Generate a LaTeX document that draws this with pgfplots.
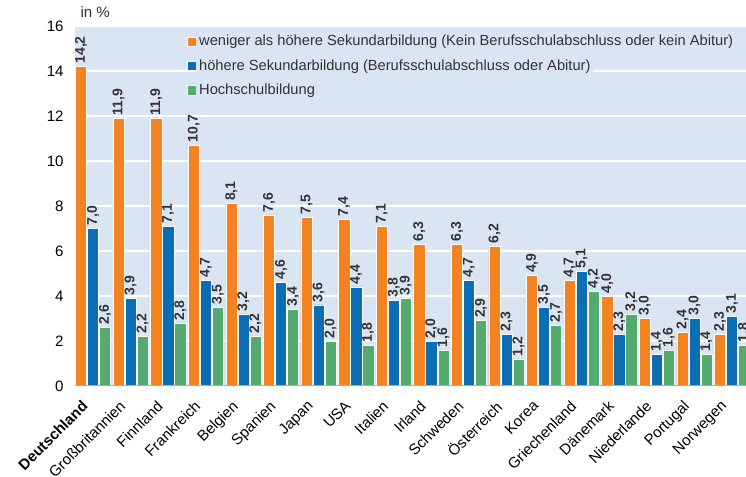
\documentclass[border=0pt]{standalone}
\usepackage{pgfplots}
\pgfplotsset{compat=1.18}
\usepackage{fontspec}
\setmainfont{Liberation Sans}
\definecolor{bgcol}{RGB}{218,229,244}
\definecolor{c1}{RGB}{245,130,32}
\definecolor{c2}{RGB}{11,109,179}
\definecolor{c3}{RGB}{84,170,111}
\definecolor{basecol}{RGB}{140,180,224}
\definecolor{lbl}{RGB}{50,50,50}

\pgfplotstableread{
x a b c
0 14.2 7.0 2.6
1 11.9 3.9 2.2
2 11.9 7.1 2.8
3 10.7 4.7 3.5
4 8.1 3.2 2.2
5 7.6 4.6 3.4
6 7.5 3.6 2.0
7 7.4 4.4 1.8
8 7.1 3.8 3.9
9 6.3 2.0 1.6
10 6.3 4.7 2.9
11 6.2 2.3 1.2
12 4.9 3.5 2.7
13 4.7 5.1 4.2
14 4.0 2.3 3.2
15 3.0 1.4 1.6
16 2.4 3.0 1.4
17 2.3 3.1 1.8
}\data

\begin{document}
\begin{tikzpicture}
\begin{axis}[
    at={(0,0)}, anchor=south west,
    scale only axis,
    width=503.25pt, height=270pt,
    font=\fontsize{11.3}{13}\selectfont,
    /pgf/number format/assume math mode=true,
    ybar=0.6pt, bar width=8.4pt,
    xmin=-0.48, xmax=17.37,
    ymin=0, ymax=16,
    ytick={0,2,...,16},
    xtick={0,...,17},
    xticklabels={\textbf{Deutschland},Großbritannien,Finnland,Frankreich,Belgien,Spanien,Japan,USA,Italien,Irland,Schweden,Österreich,Korea,Griechenland,Dänemark,Niederlande,Portugal,Norwegen},
    xticklabel style={rotate=45, anchor=north east, inner sep=1pt, xshift=-9.4pt, yshift=3.5pt},
    yticklabel style={xshift=-5pt},
    axis line style={draw=none},
    tick style={draw=none},
    axis background/.style={fill=bgcol},
    ymajorgrids, grid style={white, line width=1.5pt},
    clip mode=individual,
    nodes near coords={\pgfmathprintnumber[fixed, fixed zerofill, precision=1, use comma]{\pgfplotspointmeta}},
    nodes near coords style={rotate=90, anchor=west, inner sep=2pt, font=\fontsize{10.5}{12}\selectfont\bfseries, text=lbl},
    legend style={draw=none, fill=none, at={(0.16,0.99)}, anchor=north west,
        nodes={fill=bgcol, inner sep=2pt, anchor=west}, row sep=4.8pt,
        font=\fontsize{11}{13}\selectfont, text=lbl},
    legend cell align=left,
    legend image code/.code={\fill[#1] (0pt,-3.5pt) rectangle (7pt,3.5pt);},
]
\addplot[fill=c1, draw=white, line width=0.4pt] table[x=x, y=a] {\data};
\addplot[fill=c2, draw=white, line width=0.4pt] table[x=x, y=b] {\data};
\addplot[fill=c3, draw=white, line width=0.4pt] table[x=x, y=c] {\data};
\addplot[sharp plot, basecol, line width=2pt, nodes near coords={}, forget plot] coordinates {(-0.48,0) (17.37,0)};
\legend{weniger als höhere Sekundarbildung (Kein Berufsschulabschluss oder kein Abitur),
        höhere Sekundarbildung (Berufsschulabschluss oder Abitur),
        Hochschulbildung}
\node[anchor=south west, inner sep=0pt, font=\fontsize{11.3}{13}\selectfont, text=lbl] at (rel axis cs:0,1) [xshift=4pt, yshift=6pt] {in \%};
\end{axis}
\pgfresetboundingbox
\useasboundingbox (-56.25pt,-68.25pt) rectangle (503.25pt,289.5pt);
\end{tikzpicture}
\end{document}
